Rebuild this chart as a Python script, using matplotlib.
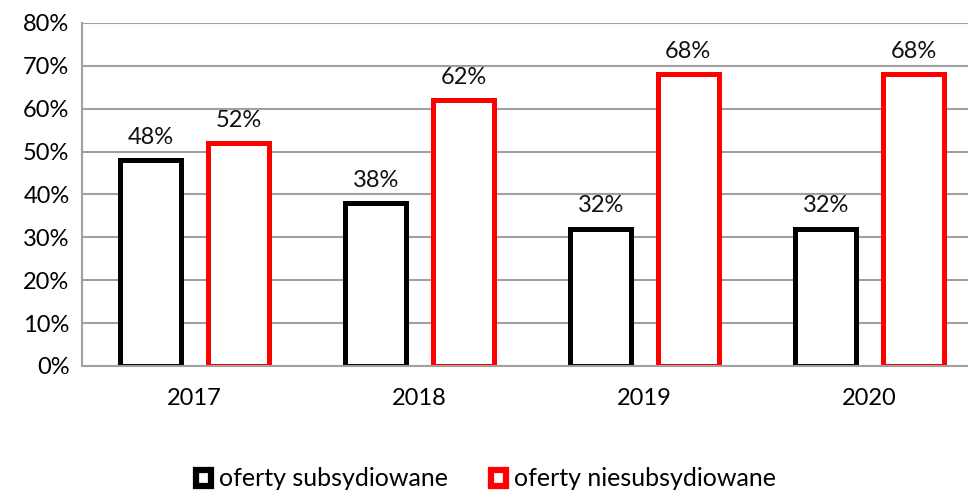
import numpy as np
import matplotlib
matplotlib.use('Agg')
import matplotlib.pyplot as plt
from matplotlib.patches import Patch

plt.rcParams['font.family'] = ['Lato', 'DejaVu Sans']

years = ['2017', '2018', '2019', '2020']
subsidised = [48, 38, 32, 32]
unsubsidised = [52, 62, 68, 68]
series_names = ['oferty subsydiowane', 'oferty niesubsydiowane']
y_ticks = [0, 10, 20, 30, 40, 50, 60, 70, 80]

fig = plt.figure(figsize=(9.68, 4.93), dpi=100)
# plot area runs a little past the right edge, like the cropped original
ax = fig.add_axes([82 / 968, 1 - 366 / 493, 900 / 968, 343 / 493])

x = np.arange(len(years))
w = 0.272
off = 0.195
grid_c = '#a0a0a0'
fs = 17

ax.set_axisbelow(True)
ax.yaxis.grid(True, color=grid_c, linewidth=1.5)
ax.bar(x - off, subsidised, w, facecolor='white', edgecolor='black', linewidth=3.6)
ax.bar(x + off, unsubsidised, w, facecolor='white', edgecolor='#ff0000', linewidth=3.6)

for xs, vals in ((x - off, subsidised), (x + off, unsubsidised)):
    for xi, v in zip(xs, vals):
        ax.annotate(f'{v}%', (xi, v), xytext=(0, 9), textcoords='offset points',
                    ha='center', va='bottom', fontsize=fs, color='#111111')

ax.set_xlim(-0.5, len(years) - 0.5)
ax.set_ylim(0, 80)
ax.set_yticks(y_ticks)
ax.set_yticklabels([f'{t}%' for t in y_ticks], fontsize=fs)
ax.set_xticks(x)
ax.set_xticklabels(years, fontsize=fs)
ax.tick_params(axis='y', length=0, pad=9)
ax.tick_params(axis='x', length=0, pad=16)
for s in ('top', 'right'):
    ax.spines[s].set_visible(False)
for s in ('left', 'bottom'):
    ax.spines[s].set_color(grid_c)
    ax.spines[s].set_linewidth(1.5)

handles = [Patch(facecolor='white', edgecolor='black', linewidth=4.5),
           Patch(facecolor='white', edgecolor='#ff0000', linewidth=4.5)]
fig.legend(handles, series_names, loc='center', bbox_to_anchor=(486 / 968, 1 - 479 / 493),
           ncol=2, frameon=False, fontsize=18, handlelength=0.6, handleheight=0.6,
           handletextpad=0.35, columnspacing=1.7)

plt.savefig('out.png', dpi=100)
plt.close()
